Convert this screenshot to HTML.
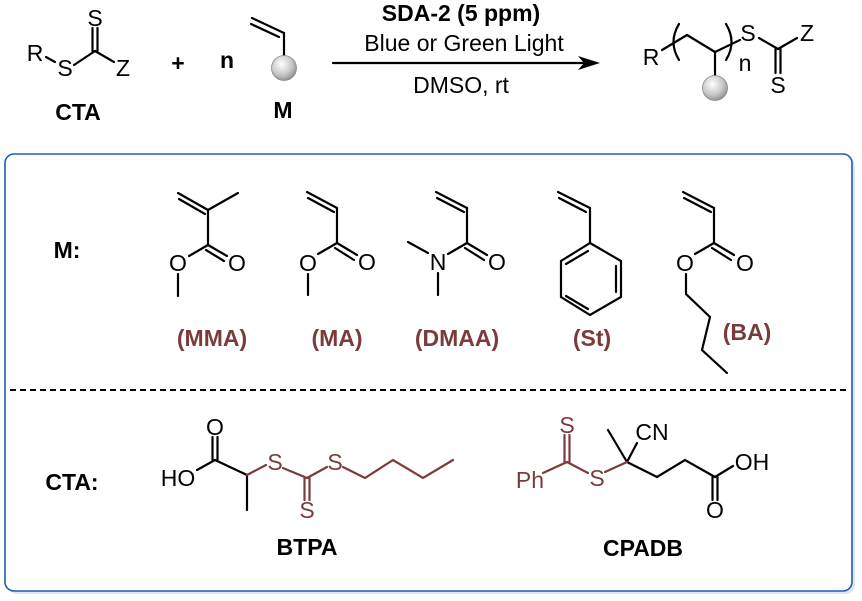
<!DOCTYPE html>
<html><head><meta charset="utf-8"><style>
html,body{margin:0;padding:0;background:#fff;}
svg{display:block;}
text{font-family:"Liberation Sans",Arial,sans-serif;}
</style></head><body>
<svg width="862" height="601" viewBox="0 0 862 601" xmlns="http://www.w3.org/2000/svg">
<defs>
<radialGradient id="ball" cx="0.4" cy="0.35" r="0.7">
<stop offset="0" stop-color="#ffffff"/><stop offset="0.6" stop-color="#c8c8c8"/><stop offset="1" stop-color="#8a8a8a"/>
</radialGradient>
</defs>
<rect x="8" y="157" width="847" height="437" rx="9" fill="#dfe8f2"/>
<rect x="5" y="154" width="847" height="437" rx="9" fill="#fff" stroke="#1e5fb0" stroke-width="1.6"/>
<line x1="10" y1="390" x2="846" y2="390" stroke="#000" stroke-width="2" stroke-dasharray="6,4"/>
<g fill="none" stroke="#000" stroke-width="2.2" stroke-linecap="round">
<line x1="46" y1="57" x2="55" y2="62"/>
<line x1="74" y1="65" x2="95" y2="51"/>
<line x1="92.5" y1="51" x2="92.5" y2="28"/><line x1="97.5" y1="51" x2="97.5" y2="28"/>
<line x1="95" y1="51" x2="114" y2="62"/>
<line x1="252" y1="18" x2="284" y2="33"/><line x1="251" y1="24" x2="279" y2="37"/>
<line x1="284" y1="33" x2="284" y2="56"/>
<line x1="333" y1="63" x2="590" y2="63"/>
<line x1="662" y1="50" x2="687" y2="35"/>
<line x1="687" y1="35" x2="715" y2="52"/>
<line x1="715" y1="52" x2="740" y2="40"/>
<line x1="715" y1="52" x2="715" y2="76"/>
<path d="M679 24 Q668 42 679 60"/><path d="M726 24 Q737 42 726 60"/>
<line x1="759" y1="38" x2="778" y2="49"/><line x1="778" y1="49" x2="797" y2="38"/>
<line x1="775.5" y1="49" x2="775.5" y2="73"/><line x1="780.5" y1="49" x2="780.5" y2="73"/>
</g>
<polygon points="600,63 578,56 584,63 578,70" fill="#000"/>
<circle cx="284" cy="68" r="12.5" fill="url(#ball)" stroke="#888" stroke-width="0.8"/>
<circle cx="715" cy="88" r="12.5" fill="url(#ball)" stroke="#888" stroke-width="0.8"/>
<g font-size="23" fill="#000" text-anchor="middle">
<text x="35" y="61">R</text><text x="65" y="76">S</text><text x="123" y="76">Z</text><text x="95" y="26">S</text>
<text x="651" y="65">R</text><text x="745" y="71">n</text><text x="748" y="41">S</text><text x="807" y="41">Z</text><text x="778" y="93">S</text>
<text x="464" y="51">Blue or Green Light</text>
<text x="461" y="93">DMSO, rt</text>
</g>
<g font-size="23" font-weight="bold" fill="#000" text-anchor="middle">
<text x="461" y="21">SDA-2 (5 ppm)</text>
<text x="78" y="120">CTA</text>
<text x="283" y="118">M</text>
<text x="178" y="71">+</text>
<text x="227" y="68">n</text>
<text x="67" y="258">M:</text>
<text x="72" y="490">CTA:</text>
<text x="307" y="555">BTPA</text>
<text x="643" y="556">CPADB</text>
</g>
<g fill="none" stroke="#000" stroke-width="2.2" stroke-linecap="round">
<line x1="178" y1="193" x2="208" y2="210"/><line x1="179" y1="199" x2="205" y2="214"/>
<line x1="208" y1="210" x2="238" y2="193"/><line x1="208" y1="210" x2="208" y2="245"/>
<line x1="208" y1="245" x2="189" y2="256"/><line x1="208" y1="245" x2="227" y2="256"/><line x1="206" y1="250" x2="224" y2="261"/>
<line x1="178" y1="274" x2="178" y2="296"/>
<line x1="307" y1="192" x2="337" y2="208"/><line x1="308" y1="198" x2="334" y2="212"/>
<line x1="337" y1="208" x2="337" y2="243"/>
<line x1="337" y1="243" x2="318" y2="254"/><line x1="337" y1="243" x2="357" y2="255"/><line x1="335" y1="248" x2="354" y2="260"/>
<line x1="308" y1="274" x2="308" y2="295"/>
<line x1="436" y1="192" x2="467" y2="208"/><line x1="437" y1="198" x2="464" y2="212"/>
<line x1="467" y1="208" x2="467" y2="243"/>
<line x1="467" y1="243" x2="448" y2="254"/><line x1="467" y1="243" x2="487" y2="255"/><line x1="465" y1="248" x2="484" y2="260"/>
<line x1="408" y1="242" x2="428" y2="253"/><line x1="438" y1="273" x2="438" y2="295"/>
<line x1="558" y1="192" x2="590" y2="208"/><line x1="559" y1="198" x2="586" y2="212"/>
<line x1="590" y1="208" x2="590" y2="243"/>
<polygon points="590,243 621,261 621,297 590,315 561,297 561,261"/>
<line x1="616" y1="266" x2="616" y2="292"/><line x1="588" y1="309" x2="566" y2="296"/><line x1="566" y1="264" x2="588" y2="251"/>
<line x1="683" y1="192" x2="714" y2="208"/><line x1="684" y1="198" x2="711" y2="212"/>
<line x1="714" y1="208" x2="714" y2="243"/>
<line x1="714" y1="243" x2="695" y2="254"/><line x1="714" y1="243" x2="734" y2="255"/><line x1="712" y1="248" x2="731" y2="260"/>
<polyline points="686,274 686,294 710,317 702,350 727,373"/>
<line x1="212.5" y1="437" x2="212.5" y2="460"/><line x1="217.5" y1="437" x2="217.5" y2="460"/>
<line x1="197" y1="470" x2="215" y2="460"/><line x1="215" y1="460" x2="247" y2="475"/>
<line x1="247" y1="475" x2="247" y2="510"/>
<line x1="627" y1="462" x2="608" y2="430"/><line x1="627" y1="462" x2="637" y2="443"/>
<polyline points="627,462 657,477 685,460 715,477"/>
<line x1="715" y1="477" x2="733" y2="466"/>
<line x1="712.5" y1="477" x2="712.5" y2="500"/><line x1="717.5" y1="477" x2="717.5" y2="500"/>
</g>
<g fill="none" stroke="#7b3b3b" stroke-width="2.2" stroke-linecap="round">
<line x1="247" y1="475" x2="266" y2="465"/>
<line x1="283" y1="468" x2="307" y2="478"/>
<line x1="304.5" y1="478" x2="304.5" y2="500"/><line x1="309.5" y1="478" x2="309.5" y2="500"/>
<line x1="307" y1="478" x2="327" y2="467"/>
<polyline points="343,467 365,478 393,460 423,478 453,460"/>
<line x1="564.5" y1="435" x2="564.5" y2="462"/><line x1="569.5" y1="435" x2="569.5" y2="462"/>
<line x1="543" y1="473" x2="567" y2="462"/><line x1="567" y1="462" x2="588" y2="473"/>
<line x1="605" y1="472" x2="627" y2="462"/>
</g>
<g font-size="23" fill="#000" text-anchor="middle">
<text x="178" y="271">O</text><text x="237" y="271">O</text>
<text x="308" y="271">O</text><text x="367" y="270">O</text>
<text x="438" y="270">N</text><text x="497" y="270">O</text>
<text x="685" y="271">O</text><text x="745" y="271">O</text>
<text x="215" y="435">O</text><text x="178" y="486">HO</text>
<text x="652" y="440">CN</text><text x="752" y="470">OH</text>
<text x="715" y="518">O</text>
</g>
<g font-size="23" fill="#7b3b3b" text-anchor="middle">
<text x="275" y="470">S</text><text x="335" y="470">S</text><text x="307" y="518">S</text>
<text x="567" y="433">S</text><text x="530" y="488">Ph</text><text x="597" y="486">S</text>
</g>
<g font-size="23" font-weight="bold" fill="#7b3b3b" text-anchor="middle">
<text x="212" y="346">(MMA)</text><text x="337" y="346">(MA)</text><text x="457" y="346">(DMAA)</text>
<text x="592" y="346">(St)</text><text x="747" y="340">(BA)</text>
</g>
</svg>
</body></html>
